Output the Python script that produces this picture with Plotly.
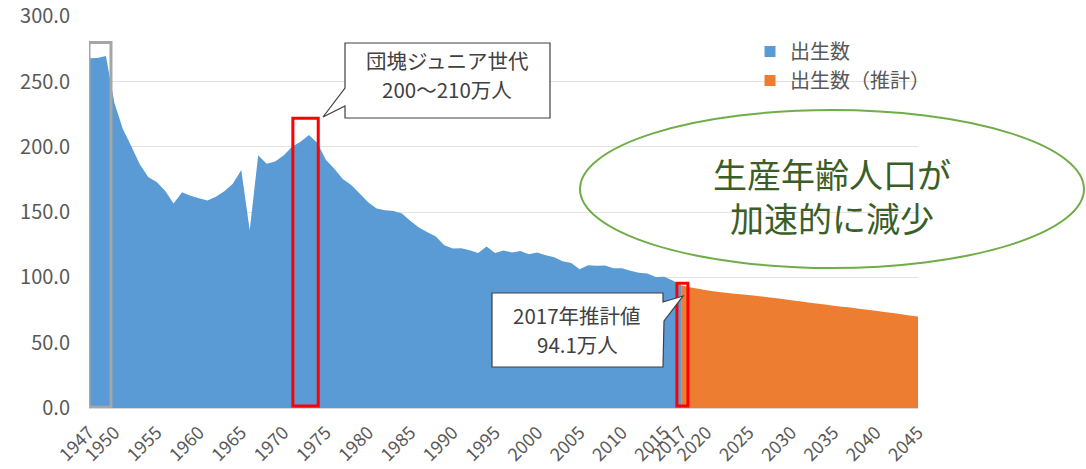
import plotly.graph_objects as go

# ---- data (万人) ----
years_actual = list(range(1947, 2018))
births_actual = [
    267.9, 268.2, 269.7, 233.8, 213.8, 200.5, 186.8, 176.9, 173.1, 166.5,
    156.7, 165.3, 162.6, 160.6, 158.9, 161.9, 166.0, 171.7, 182.4, 136.1,
    193.6, 187.2, 188.9, 193.4, 200.1, 203.9, 209.2, 203.0, 190.1, 183.3,
    175.5, 170.9, 164.3, 157.7, 152.9, 151.5, 150.9, 149.0, 143.2, 138.3,
    134.7, 131.4, 124.7, 122.2, 122.3, 120.9, 118.8, 123.8, 118.7, 120.7,
    119.2, 120.3, 117.8, 119.1, 117.1, 115.4, 112.4, 111.1, 106.3, 109.3,
    109.0, 109.1, 107.0, 107.1, 105.1, 103.7, 103.0, 100.4, 100.6, 97.7,
    94.1,
]
years_proj = list(range(2017, 2046))
births_proj = [
    94.1, 92.5, 91.4, 90.2, 89.3, 88.5, 87.8, 87.1, 86.5, 85.8,
    85.1, 84.3, 83.5, 82.6, 81.7, 80.8, 80.0, 79.2, 78.4, 77.6,
    76.9, 76.1, 75.3, 74.5, 73.6, 72.7, 71.8, 70.9, 70.0,
]
tick_years = [1947, 1950, 1955, 1960, 1965, 1970, 1975, 1980, 1985, 1990,
              1995, 2000, 2005, 2010, 2015, 2017, 2020, 2025, 2030, 2035,
              2040, 2045]
tick_labels = [str(y) for y in tick_years]
series_names = ["出生数", "出生数（推計）"]

BLUE = "#5B9BD5"
ORANGE = "#ED7D31"
FONT = "Noto Sans CJK JP"
W, H = 1086, 469
L, R, T, B = 89, 918, 16, 408  # plot area in pixels
YMAX = 300.3


def px(x):
    return (x - L) / (R - L)


def py(y):
    return (B - y) / (B - T)


fig = go.Figure()
fig.add_trace(go.Scatter(x=years_actual, y=births_actual, mode="none",
                         fill="tozeroy", fillcolor=BLUE, showlegend=False,
                         hoverinfo="x+y"))
fig.add_trace(go.Scatter(x=years_proj, y=births_proj, mode="none",
                         fill="tozeroy", fillcolor=ORANGE, showlegend=False,
                         hoverinfo="x+y"))
# legend entries
for name, col in zip(series_names, [BLUE, ORANGE]):
    fig.add_trace(go.Scatter(x=[None], y=[None], mode="markers", name=name,
                             marker=dict(symbol="square", size=11, color=col)))

shapes = []
# highlight boxes (data coordinates)
shapes.append(dict(type="rect", xref="x", yref="y", x0=1947.0, x1=1949.6,
                   y0=0.5, y1=280, line=dict(color="#A6A6A6", width=3),
                   fillcolor="rgba(0,0,0,0)", layer="above"))
shapes.append(dict(type="rect", xref="x", yref="y", x0=1971.1, x1=1974.1,
                   y0=1.5, y1=222, line=dict(color="#FF0000", width=3),
                   fillcolor="rgba(0,0,0,0)", layer="above"))
shapes.append(dict(type="rect", xref="x", yref="y", x0=2016.5, x1=2017.8,
                   y0=1.5, y1=95.5, line=dict(color="#FF0000", width=3),
                   fillcolor="rgba(0,0,0,0)", layer="above"))


def path(points):
    return "M " + " L ".join(f"{px(a):.5f},{py(b):.5f}" for a, b in points) + " Z"


# callout 1
shapes.append(dict(type="path", xref="paper", yref="paper",
                   path=path([(345, 43), (550, 43), (550, 118), (345, 118),
                              (345, 106), (323, 117), (345, 88)]),
                   line=dict(color="#404040", width=1.2), fillcolor="white",
                   layer="above"))
# callout 2
shapes.append(dict(type="path", xref="paper", yref="paper",
                   path=path([(492, 293), (663, 293), (663, 302), (683, 296),
                              (664, 321), (663, 367), (492, 367)]),
                   line=dict(color="#404040", width=1.2), fillcolor="white",
                   layer="above"))
# ellipse
shapes.append(dict(type="circle", xref="paper", yref="paper",
                   x0=px(580), x1=px(1084), y0=py(268), y1=py(110),
                   line=dict(color="#70AD47", width=2),
                   fillcolor="rgba(255,255,255,0)", layer="above"))

annotations = []


def txt(s, x, y, size, color):
    annotations.append(dict(text=s, xref="paper", yref="paper", x=px(x), y=py(y),
                            xanchor="center", yanchor="middle", showarrow=False,
                            font=dict(family=FONT, size=size, color=color)))


txt("団塊ジュニア世代", 447, 60, 20.5, "#404040")
txt("200～210万人", 447, 89, 20.5, "#404040")
txt("2017年推計値", 577, 315, 20.5, "#404040")
txt("94.1万人", 577, 344, 20.5, "#404040")
txt("生産年齢人口が<br>加速的に減少", 832, 196, 34, "#3B5E27")

fig.update_layout(
    width=W, height=H,
    margin=dict(l=L, r=W - R, t=T, b=H - B, autoexpand=False),
    paper_bgcolor="white", plot_bgcolor="white",
    font=dict(family=FONT, color="#595959"),
    shapes=shapes, annotations=annotations,
    legend=dict(x=px(750), y=py(32), xanchor="left", yanchor="top",
                font=dict(family=FONT, size=20, color="#595959"),
                bgcolor="rgba(0,0,0,0)", tracegroupgap=0, itemwidth=30),
    showlegend=True,
)
fig.update_xaxes(range=[1947, 2045], tickmode="array", tickvals=tick_years,
                 ticktext=tick_labels, tickangle=-45, showgrid=False,
                 zeroline=False, showline=True, linecolor="#D9D9D9",
                 tickfont=dict(family=FONT, size=18, color="#595959"),
                 ticks="", ticklabelstandoff=6, automargin=False)
fig.update_yaxes(range=[0, YMAX], tickmode="linear", tick0=0, dtick=50,
                 tickformat=".1f", showgrid=True, gridcolor="#E3E3E3",
                 gridwidth=1, zeroline=False, showline=False, ticks="",
                 tickfont=dict(family=FONT, size=20, color="#595959"),
                 ticklabelstandoff=18, automargin=False,
                 ticklabeloverflow="allow")

fig.write_html("out.html",
               config={"displayModeBar": False},
               post_script="document.body.style.margin='0';"
                           "document.body.style.overflow='hidden';")
